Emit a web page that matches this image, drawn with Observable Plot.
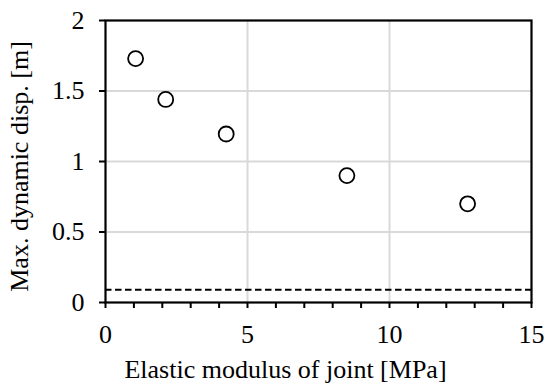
<!DOCTYPE html>
<html>
<head>
<meta charset="utf-8">
<script src="https://cdn.jsdelivr.net/npm/d3@7"></script>
<script src="https://cdn.jsdelivr.net/npm/@observablehq/plot@0.6"></script>
<style>
  html, body { margin: 0; padding: 0; background: #fff; }
</style>
</head>
<body>
<div id="chart"></div>
<script>
// Joint elastic modulus [MPa] vs. maximum dynamic displacement [m]
const modulus = [1.06, 2.12, 4.25, 8.5, 12.75];
const maxDisp = [1.73, 1.44, 1.195, 0.9, 0.70];
// Reference level drawn as a dashed line
const refDisp = [0.09];

const xTicks = [0, 5, 10, 15];
const xMinorTicks = d3.range(0, 16);
const yTicks = [0, 0.5, 1, 1.5, 2];

const xTitle = ["Elastic modulus of joint [MPa]"];
const yTitle = ["Max. dynamic disp. [m]"];

const points = modulus.map((m, i) => ({m, d: maxDisp[i]}));
const fmt = d => String(d);
const serif = "Liberation Serif";
const fs = 26;

const chart = Plot.plot({
  width: 544,
  height: 385,
  marginLeft: 105,
  marginTop: 20,
  marginRight: 13,
  marginBottom: 83,
  style: {fontFamily: serif, fontSize: `${fs}px`, color: "#000", background: "#fff"},
  x: {domain: [0, 15]},
  y: {domain: [0, 2]},
  marks: [
    Plot.gridX(xTicks.slice(1, -1), {stroke: "#d9d9d9", strokeOpacity: 1, strokeWidth: 2}),
    Plot.gridY(yTicks.slice(1, -1), {stroke: "#d9d9d9", strokeOpacity: 1, strokeWidth: 2}),
    Plot.ruleY(refDisp, {stroke: "#000", strokeWidth: 2, strokeDasharray: "6.5,3.5"}),
    Plot.frame({stroke: "#000", strokeWidth: 2.2}),
    // minor ticks every 1 MPa, labels every 5
    Plot.axisX({ticks: xMinorTicks, tickSize: 6, strokeWidth: 2, text: null, label: null}),
    Plot.axisX({ticks: xTicks, tickSize: 0, tickPadding: 22, fontSize: fs, fontFamily: serif,
      tickFormat: fmt, label: null}),
    Plot.axisY({ticks: yTicks, tickSize: 6, strokeWidth: 2, tickPadding: 15, fontSize: fs, fontFamily: serif,
      tickFormat: fmt, label: null}),
    // axis titles
    Plot.text(xTitle, {text: d => d, frameAnchor: "bottom", textAnchor: "middle", dx: -33, dy: 67,
      lineAnchor: "middle", fontSize: fs, fontFamily: serif, fill: "#000"}),
    Plot.text(yTitle, {text: d => d, frameAnchor: "left", textAnchor: "middle", rotate: -90, dx: -86, dy: 5,
      lineAnchor: "middle", fontSize: fs, fontFamily: serif, fill: "#000"}),
    Plot.dot(points, {x: "m", y: "d", r: 7.5, stroke: "#000", strokeWidth: 1.8, fill: "#fff"})
  ]
});

chart.querySelectorAll("text").forEach(t => {
  t.style.fontFamily = serif;
  t.style.fontSize = `${fs}px`;
  t.setAttribute("fill", "#000");
});

document.getElementById("chart").append(chart);
</script>
</body>
</html>
